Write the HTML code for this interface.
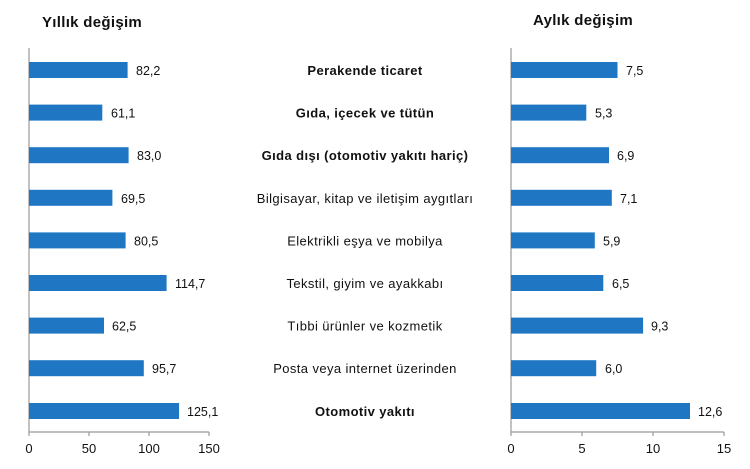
<!DOCTYPE html>
<html><head><meta charset="utf-8"><style>
body{margin:0;background:#fff;}
svg text{font-family:"Liberation Sans",Arial,sans-serif;fill:#111;}
</style></head><body>
<svg width="750" height="464" xmlns="http://www.w3.org/2000/svg">
<text x="42" y="27" font-size="15" font-weight="bold" letter-spacing="0.3">Yıllık değişim</text>
<text x="533" y="25" font-size="15" font-weight="bold" letter-spacing="0.3">Aylık değişim</text>
<g stroke="#999" stroke-width="1.2" fill="none">
<line x1="29" y1="48" x2="29" y2="432"/><line x1="29" y1="432" x2="209" y2="432"/>
<line x1="29" y1="432" x2="29" y2="436"/><line x1="89" y1="432" x2="89" y2="436"/><line x1="149" y1="432" x2="149" y2="436"/><line x1="209" y1="432" x2="209" y2="436"/>
<line x1="511" y1="48" x2="511" y2="432"/><line x1="511" y1="432" x2="724" y2="432"/>
<line x1="511" y1="432" x2="511" y2="436"/><line x1="582" y1="432" x2="582" y2="436"/><line x1="653" y1="432" x2="653" y2="436"/><line x1="724" y1="432" x2="724" y2="436"/>
</g>
<g font-size="13" text-anchor="middle">
<text x="29" y="453">0</text><text x="89" y="453">50</text><text x="149" y="453">100</text><text x="209" y="453">150</text>
<text x="511" y="453">0</text><text x="582" y="453">5</text><text x="653" y="453">10</text><text x="724" y="453">15</text>
</g>
<g fill="#1f77c4">
<rect x="29" y="62" width="98.6" height="16"/>
<rect x="29" y="104.6" width="73.3" height="16"/>
<rect x="29" y="147.2" width="99.6" height="16"/>
<rect x="29" y="189.8" width="83.4" height="16"/>
<rect x="29" y="232.4" width="96.6" height="16"/>
<rect x="29" y="275" width="137.6" height="16"/>
<rect x="29" y="317.6" width="75" height="16"/>
<rect x="29" y="360.2" width="114.8" height="16"/>
<rect x="29" y="403" width="150.1" height="16"/>
<rect x="511" y="62" width="106.5" height="16"/>
<rect x="511" y="104.6" width="75.3" height="16"/>
<rect x="511" y="147.2" width="98" height="16"/>
<rect x="511" y="189.8" width="100.8" height="16"/>
<rect x="511" y="232.4" width="83.8" height="16"/>
<rect x="511" y="275" width="92.3" height="16"/>
<rect x="511" y="317.6" width="132.1" height="16"/>
<rect x="511" y="360.2" width="85.2" height="16"/>
<rect x="511" y="403" width="179" height="16"/>
</g>
<g font-size="12.5">
<text x="136" y="75">82,2</text><text x="111" y="117.6">61,1</text><text x="137" y="160.2">83,0</text>
<text x="121" y="202.8">69,5</text><text x="134" y="245.4">80,5</text><text x="175" y="288">114,7</text>
<text x="112" y="330.6">62,5</text><text x="152" y="373.2">95,7</text><text x="187" y="416">125,1</text>
<text x="626" y="75">7,5</text><text x="595" y="117.6">5,3</text><text x="617" y="160.2">6,9</text>
<text x="620" y="202.8">7,1</text><text x="603" y="245.4">5,9</text><text x="612" y="288">6,5</text>
<text x="651" y="330.6">9,3</text><text x="605" y="373.2">6,0</text><text x="698" y="416">12,6</text>
</g>
<g font-size="13" text-anchor="middle" letter-spacing="0.4">
<text x="365" y="75" font-weight="bold">Perakende ticaret</text>
<text x="365" y="117.6" font-weight="bold">Gıda, içecek ve tütün</text>
<text x="365" y="160.2" font-weight="bold">Gıda dışı (otomotiv yakıtı hariç)</text>
<text x="365" y="202.8">Bilgisayar, kitap ve iletişim aygıtları</text>
<text x="365" y="245.4">Elektrikli eşya ve mobilya</text>
<text x="365" y="288">Tekstil, giyim ve ayakkabı</text>
<text x="365" y="330.6">Tıbbi ürünler ve kozmetik</text>
<text x="365" y="373.2">Posta veya internet üzerinden</text>
<text x="365" y="416" font-weight="bold">Otomotiv yakıtı</text>
</g>
</svg>
</body></html>
